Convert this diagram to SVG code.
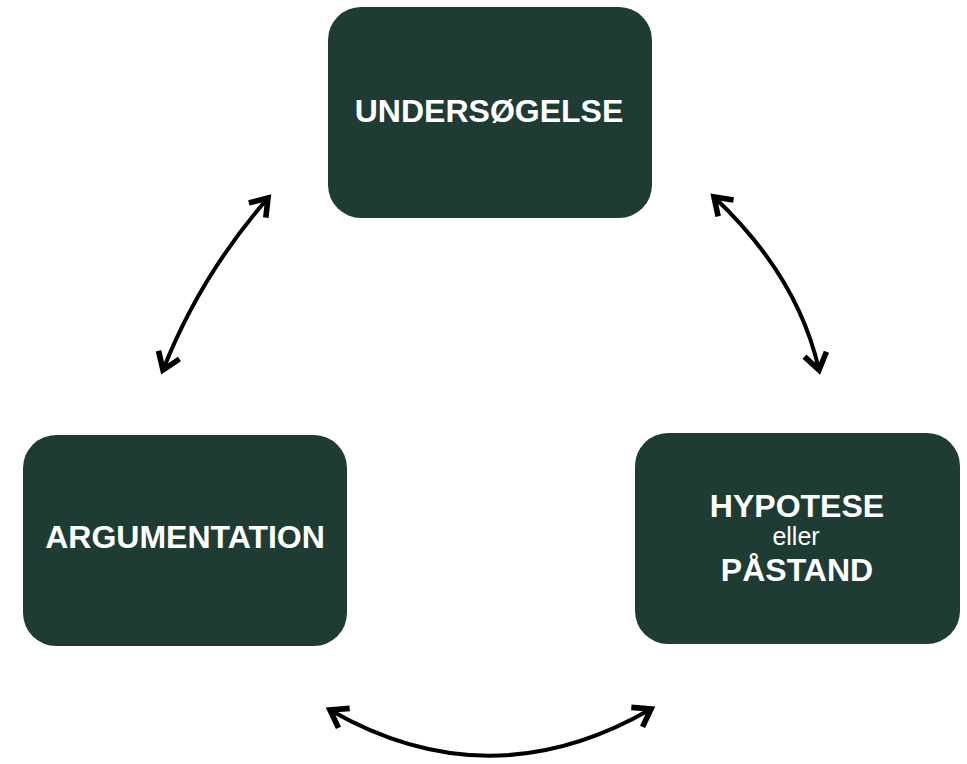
<svg xmlns="http://www.w3.org/2000/svg" width="967" height="764" viewBox="0 0 967 764">
<style>
.box{fill:#1f3c34}
.t{fill:#ffffff;font-family:"Liberation Sans",Arial,sans-serif;font-weight:bold;font-size:32px;text-anchor:middle}
.s{fill:#ffffff;font-family:"Liberation Sans",Arial,sans-serif;font-size:25px;text-anchor:middle}
.c{fill:none;stroke:#000;stroke-width:4}
</style>
<defs>
<marker id="ah" markerUnits="userSpaceOnUse" markerWidth="30" markerHeight="30" viewBox="-16 -12 20 24" refX="0" refY="0" orient="auto-start-reverse">
<path d="M-13,-9 L0,0 L-13,9" fill="none" stroke="#000" stroke-width="4.5" stroke-linejoin="miter"/>
</marker>
</defs>
<rect width="967" height="764" fill="#fff"/>
<g id="connectors">
<path class="c" d="M268,198 Q200,276 163,370" marker-start="url(#ah)" marker-end="url(#ah)"/>
<path class="c" d="M714,197 Q798,276 819,370" marker-start="url(#ah)" marker-end="url(#ah)"/>
<path class="c" d="M330,710 Q490,802 651,709" marker-start="url(#ah)" marker-end="url(#ah)"/>
</g>
<g id="undersogelse">
<rect class="box" x="328" y="7" width="324" height="211" rx="33"/>
<text class="t" x="489" y="122">UNDERSØGELSE</text>
</g>
<g id="hypotese">
<rect class="box" x="635" y="433" width="325" height="211" rx="33"/>
<text class="t" x="797" y="517">HYPOTESE</text>
<text class="s" x="796" y="545">eller</text>
<text class="t" x="797" y="581">PÅSTAND</text>
</g>
<g id="argumentation">
<rect class="box" x="23" y="435" width="324" height="211" rx="33"/>
<text class="t" x="185" y="548">ARGUMENTATION</text>
</g>
</svg>
